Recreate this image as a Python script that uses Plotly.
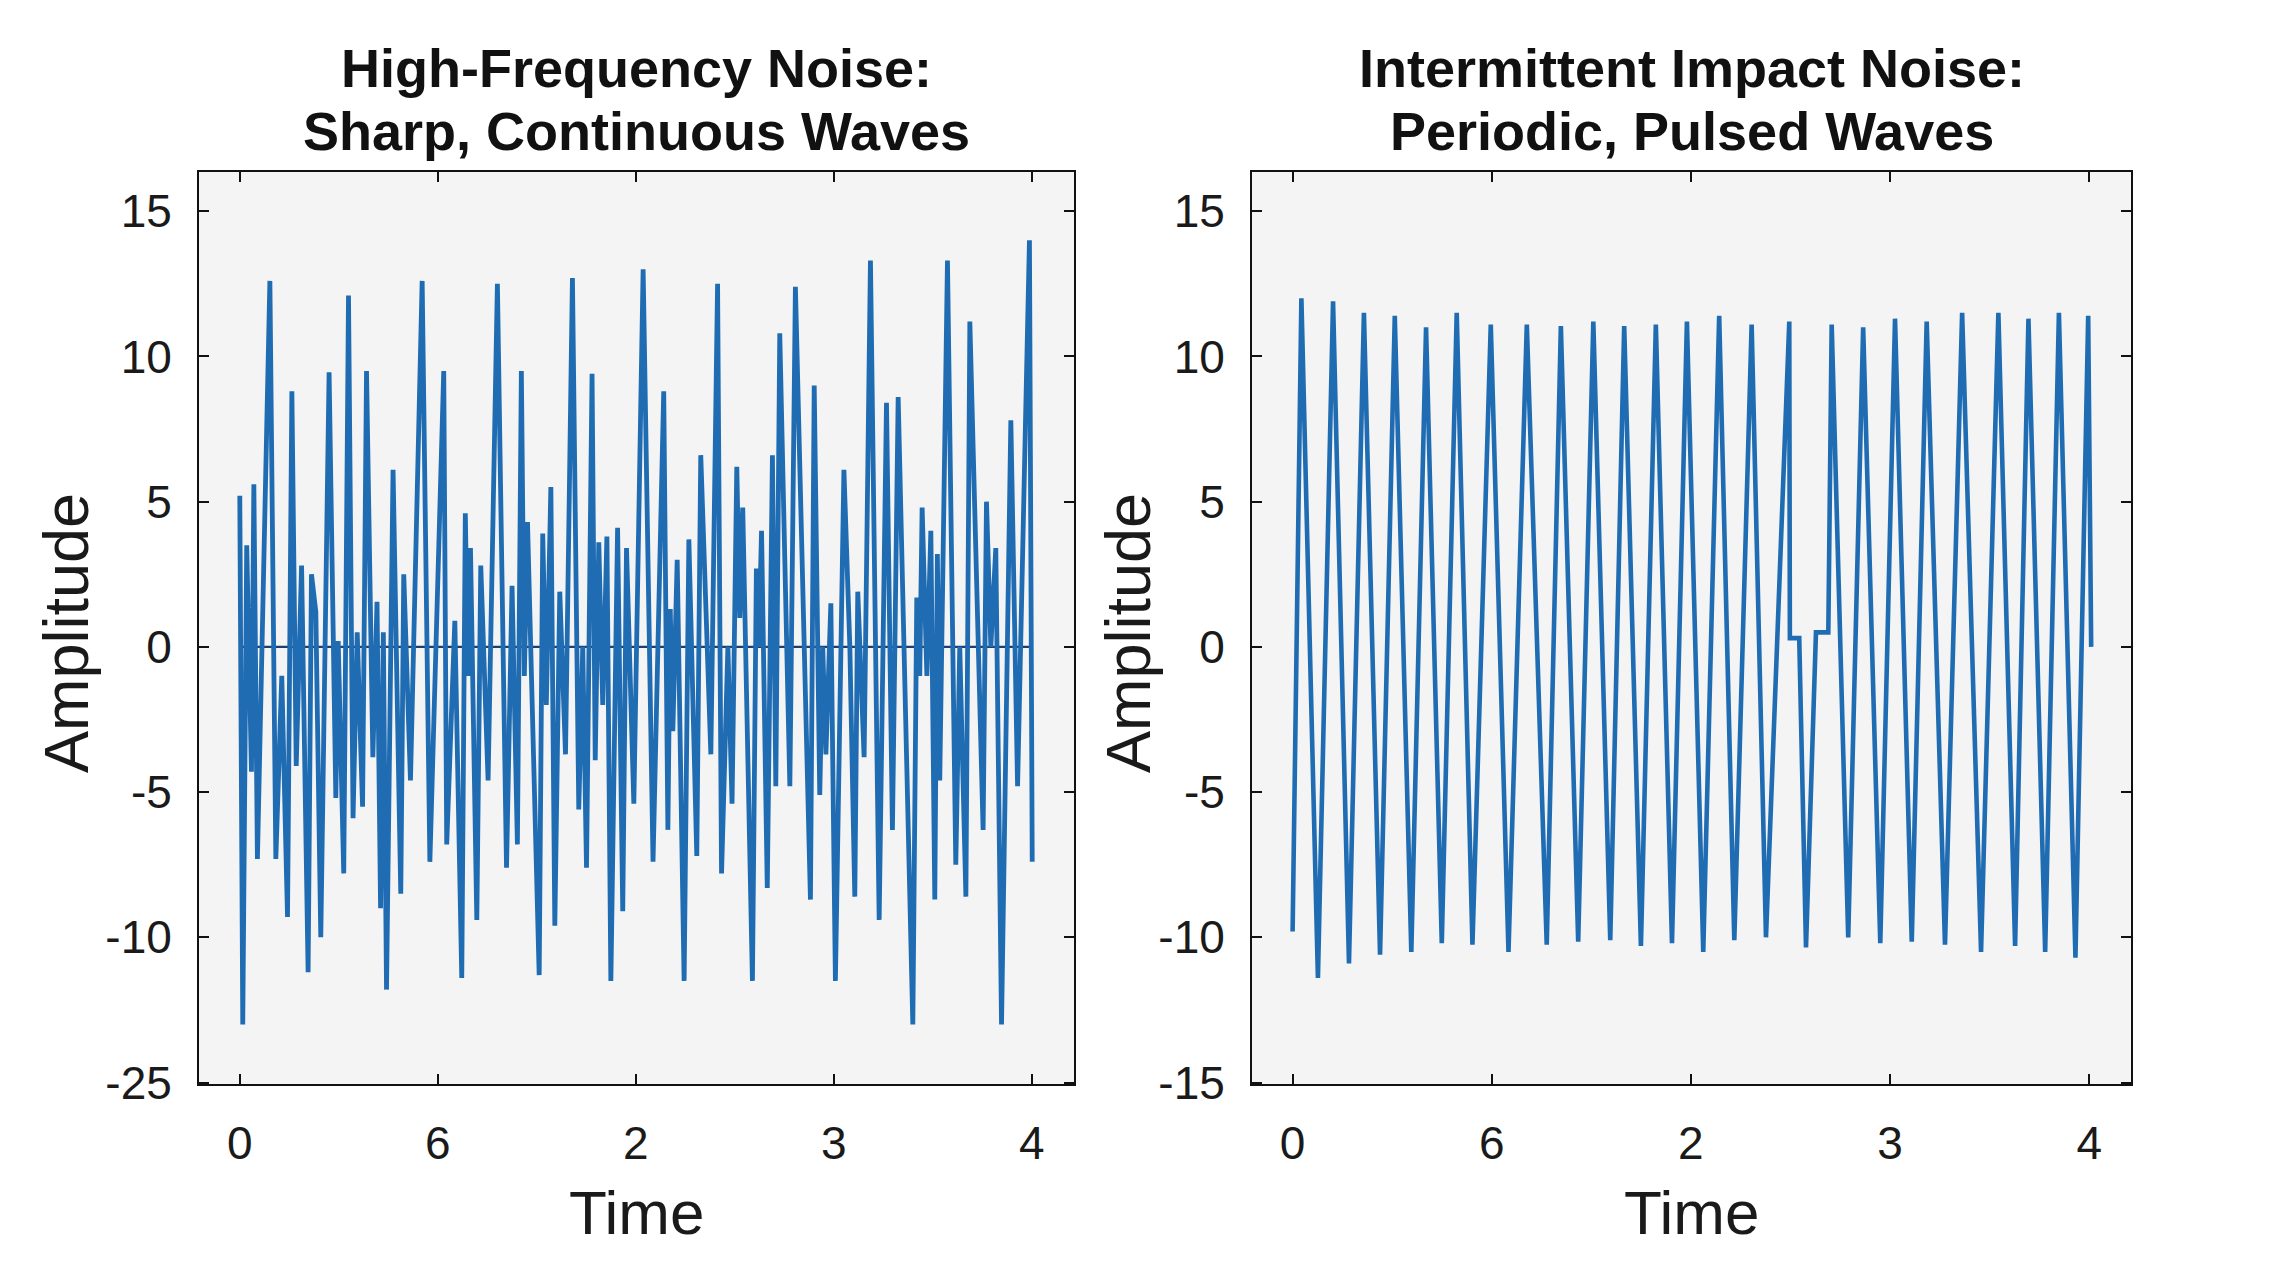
import plotly.graph_objects as go

# ---------------- data ----------------
hf_time = [0.000, 0.015, 0.035, 0.059, 0.071, 0.089, 0.152, 0.182, 0.212, 0.241,
           0.263, 0.285, 0.312, 0.345, 0.362, 0.384, 0.409, 0.451, 0.485, 0.497,
           0.525, 0.549, 0.572, 0.593, 0.620, 0.640, 0.672, 0.693, 0.711, 0.725,
           0.741, 0.774, 0.813, 0.828, 0.862, 0.921, 0.960, 1.030, 1.045, 1.086,
           1.121, 1.139, 1.152, 1.165, 1.197, 1.217, 1.254, 1.301, 1.347, 1.375,
           1.402, 1.422, 1.437, 1.453, 1.512, 1.530, 1.548, 1.571, 1.591, 1.616,
           1.645, 1.680, 1.712, 1.732, 1.751, 1.779, 1.795, 1.813, 1.833, 1.854,
           1.874, 1.908, 1.934, 1.953, 1.990, 2.037, 2.087, 2.141, 2.162, 2.174,
           2.187, 2.209, 2.244, 2.268, 2.308, 2.328, 2.379, 2.413, 2.433, 2.465,
           2.486, 2.510, 2.525, 2.540, 2.589, 2.609, 2.621, 2.635, 2.664, 2.690,
           2.707, 2.727, 2.778, 2.806, 2.882, 2.901, 2.929, 2.944, 2.960, 2.985,
           3.008, 3.051, 3.081, 3.106, 3.121, 3.153, 3.185, 3.229, 3.266, 3.296,
           3.325, 3.399, 3.419, 3.434, 3.446, 3.470, 3.490, 3.510, 3.523, 3.535,
           3.574, 3.616, 3.636, 3.667, 3.687, 3.754, 3.771, 3.793, 3.818, 3.847,
           3.894, 3.928, 3.988, 4.002]
hf_amp = [5.2, -13.0, 3.5, -4.3, 5.6, -7.3, 12.6, -7.3, -1.0, -9.3,
          8.8, -4.1, 2.8, -11.2, 2.5, 1.2, -10.0, 9.45, -5.2, 0.2,
          -7.8, 12.1, -5.9, 0.5, -5.5, 9.5, -3.8, 1.55, -9.0, 0.5,
          -11.8, 6.1, -8.5, 2.5, -4.6, 12.6, -7.4, 9.5, -6.8, 0.9,
          -11.4, 4.6, -1.0, 3.4, -9.4, 2.8, -4.6, 12.5, -7.6, 2.1,
          -6.8, 9.5, -1.0, 4.3, -11.3, 3.9, -2.0, 5.5, -9.6, 1.9,
          -3.7, 12.7, -5.6, 0.0, -7.6, 9.4, -3.9, 3.6, -2.0, 3.8,
          -11.5, 4.1, -9.1, 3.4, -5.4, 13.0, -7.4, 8.8, -6.3, 1.3,
          -2.9, 3.0, -11.5, 3.7, -7.2, 6.6, -3.7, 12.5, -7.8, 0.0,
          -5.4, 6.2, 1.0, 4.8, -11.5, 2.7, 0.0, 4.0, -8.3, 6.6,
          -4.8, 10.8, -4.8, 12.4, -8.7, 9.0, -5.1, 0.0, -3.7, 1.5,
          -11.5, 6.1, 0.0, -8.6, 1.9, -3.8, 13.3, -9.4, 8.4, -6.3,
          8.6, -13.0, 1.7, -1.0, 4.8, -1.0, 4.0, -8.7, 3.2, -4.6,
          13.3, -7.5, 0.0, -8.6, 11.2, -6.3, 5.0, 0.0, 3.4, -13.0,
          7.8, -4.8, 14.0, -7.4]

baseline_time = [0.0, 4.0]
baseline_amp = [0.0, 0.0]

imp_time = [0.000, 0.044, 0.127, 0.203, 0.283, 0.358, 0.439, 0.513, 0.596, 0.670,
            0.749, 0.824, 0.903, 0.995, 1.084, 1.176, 1.276, 1.347, 1.434, 1.510,
            1.595, 1.665, 1.749, 1.824, 1.905, 1.980, 2.062, 2.142, 2.218, 2.305,
            2.377, 2.494, 2.497, 2.544, 2.578, 2.628, 2.690, 2.707, 2.790, 2.865,
            2.951, 3.025, 3.109, 3.184, 3.276, 3.362, 3.457, 3.544, 3.628, 3.695,
            3.779, 3.848, 3.931, 3.995, 4.010]
imp_amp = [-9.8, 12.0, -11.4, 11.9, -10.9, 11.5, -10.6, 11.4, -10.5, 11.0,
           -10.2, 11.5, -10.25, 11.1, -10.5, 11.1, -10.25, 11.05, -10.15, 11.2,
           -10.1, 11.05, -10.3, 11.1, -10.2, 11.2, -10.5, 11.4, -10.1, 11.1,
           -10.0, 11.2, 0.3, 0.3, -10.35, 0.5, 0.5, 11.1, -10.0, 11.0,
           -10.2, 11.3, -10.15, 11.2, -10.25, 11.5, -10.5, 11.5, -10.3, 11.3,
           -10.5, 11.5, -10.7, 11.4, 0.0]

x_tick_vals = [0, 1, 2, 3, 4]
x_tick_text = ["0", "6", "2", "3", "4"]
y_tick_vals = [15, 10, 5, 0, -5, -10, -15]
y_tick_text_left = ["15", "10", "5", "0", "-5", "-10", "-25"]
y_tick_text_right = ["15", "10", "5", "0", "-5", "-10", "-15"]

title_lines = [["High-Frequency Noise:", "Sharp, Continuous Waves"],
               ["Intermittent Impact Noise:", "Periodic, Pulsed Waves"]]
x_label = "Time"
y_label = "Amplitude"

# ---------------- figure ----------------
W, H = 2282, 1280
HE = 1255  # effective rendered height used for paper-coordinate placement
FONT = "Liberation Sans, Arial, Helvetica, sans-serif"
LINE_COLOR = "#1f6cb3"
BG = "#f4f4f4"


def py(px):
    return 1 - px / HE


dom_left = [199 / W, 1074 / W]
dom_right = [1252 / W, 2131 / W]
dom_y = [py(1084), py(172)]

fig = go.Figure()
fig.add_trace(go.Scatter(x=baseline_time, y=baseline_amp, mode="lines",
                         line=dict(color="#1d3f6e", width=2.2),
                         xaxis="x", yaxis="y", showlegend=False, hoverinfo="skip"))
fig.add_trace(go.Scatter(x=hf_time, y=hf_amp, mode="lines",
                         line=dict(color=LINE_COLOR, width=4.8),
                         xaxis="x", yaxis="y", showlegend=False))
fig.add_trace(go.Scatter(x=imp_time, y=imp_amp, mode="lines",
                         line=dict(color=LINE_COLOR, width=4.6),
                         xaxis="x2", yaxis="y2", showlegend=False))

tick_font = dict(family=FONT, size=46, color="#1a1a1a")
common_x = dict(tickmode="array", tickvals=x_tick_vals, ticktext=x_tick_text,
                ticks="inside", ticklen=10, tickwidth=2, tickcolor="#111",
                showline=True, linecolor="#111", linewidth=2, mirror="ticks",
                showgrid=False, zeroline=False, tickfont=tick_font,
                ticklabelstandoff=18)
common_y = dict(tickmode="array", tickvals=y_tick_vals,
                ticks="inside", ticklen=10, tickwidth=2, tickcolor="#111",
                showline=True, linecolor="#111", linewidth=2, mirror="ticks",
                showgrid=False, zeroline=False, tickfont=tick_font,
                range=[-15.05, 16.35], ticklabelstandoff=16)

fig.update_layout(
    width=W, height=H, autosize=False,
    margin=dict(l=0, r=0, t=0, b=0),
    paper_bgcolor="white", plot_bgcolor=BG,
    xaxis=dict(domain=dom_left, range=[-0.206, 4.213], anchor="y", **common_x),
    yaxis=dict(domain=dom_y, anchor="x", ticktext=y_tick_text_left, **common_y),
    xaxis2=dict(domain=dom_right, range=[-0.204, 4.21], anchor="y2", **common_x),
    yaxis2=dict(domain=dom_y, anchor="x2", ticktext=y_tick_text_right, **common_y),
    font=dict(family=FONT, color="#1a1a1a"),
)

ann = []
for dom, lines in zip([dom_left, dom_right], title_lines):
    cx = (dom[0] + dom[1]) / 2
    for line, ypx in zip(lines, [68, 131]):
        ann.append(dict(text="<b>" + line + "</b>", x=cx, y=py(ypx), xref="paper", yref="paper",
                        xanchor="center", yanchor="middle", showarrow=False,
                        font=dict(family=FONT, size=54, color="#111")))
    ann.append(dict(text=x_label, x=cx, y=py(1212), xref="paper", yref="paper",
                    xanchor="center", yanchor="middle", showarrow=False,
                    font=dict(family=FONT, size=62, color="#1a1a1a")))
for xpx in [66, 1128]:
    ann.append(dict(text=y_label, x=xpx / W, y=py(633), xref="paper", yref="paper",
                    xanchor="center", yanchor="middle", showarrow=False, textangle=-90,
                    font=dict(family=FONT, size=63, color="#1a1a1a")))
fig.update_layout(annotations=ann)

fig.write_html("out.html", config={"responsive": False})
